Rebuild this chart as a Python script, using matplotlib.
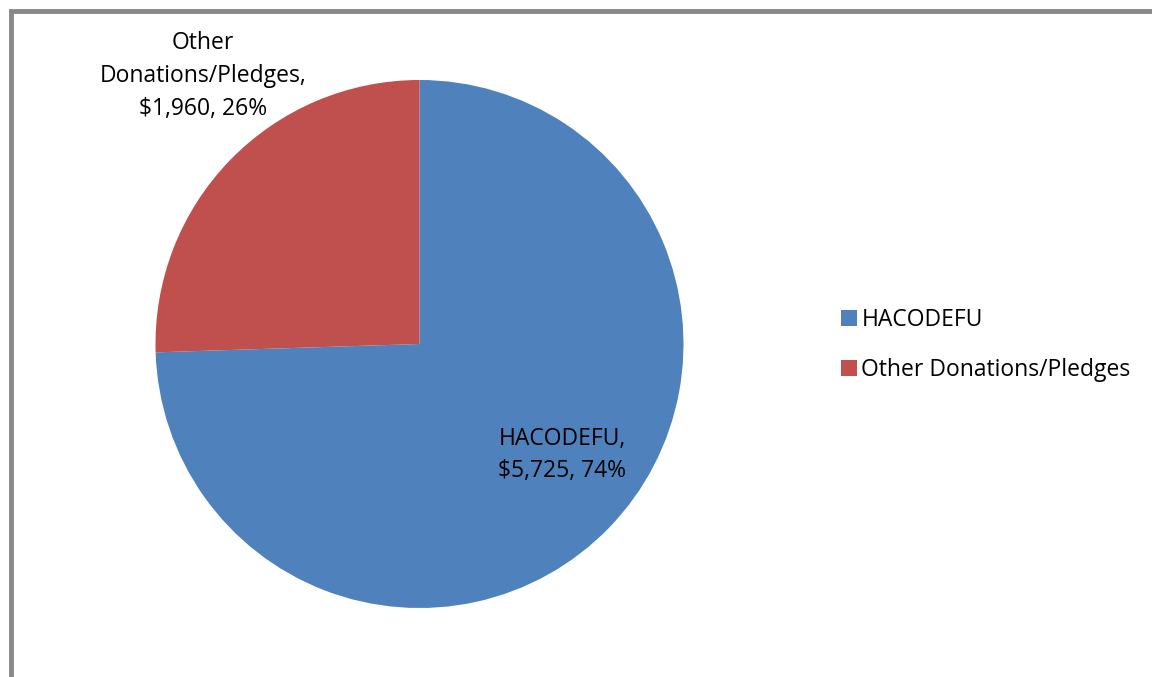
import matplotlib.pyplot as plt
from matplotlib.patches import Rectangle, Patch

plt.rcParams['font.family'] = ['Open Sans', 'DejaVu Sans']

categories = ['HACODEFU', 'Other Donations/Pledges']
amounts = [5725, 1960]
colors = ['#4F81BD', '#C0504D']

W, H = 1152, 677
fig = plt.figure(figsize=(W / 100, H / 100), dpi=100)

# chart frame (cut off at right/bottom like the screenshot)
fig.patches.append(Rectangle((10.5 / W, -0.1), 2.0, (H - 10.5) / H + 0.1,
                             transform=fig.transFigure, fill=False,
                             edgecolor='#888888', linewidth=3.5))

cx, cy, r = 419.5, 344, 264
ax = fig.add_axes([(cx - r) / W, (H - cy - r) / H, 2 * r / W, 2 * r / H])

total = sum(amounts)
pcts = [round(100 * a / total) for a in amounts]
labels = ['%s,\n$%s, %d%%' % (c, format(a, ','), p) for c, a, p in zip(categories, amounts, pcts)]
labels[1] = 'Other\nDonations/Pledges,\n$%s, %d%%' % (format(amounts[1], ','), pcts[1])

wedges, texts = ax.pie(amounts, colors=colors, startangle=90, counterclock=False,
                       labels=labels, labeldistance=0.68,
                       wedgeprops=dict(linewidth=0),
                       textprops=dict(fontsize=16.5, ha='center', va='center',
                                      linespacing=1.48))
texts[0].set_position((0.54, -0.42))
texts[1].set_position((-0.82, 1.015))
for t in texts:
    t.set_ha('center')
    t.set_va('center')
ax.set_xlim(-1, 1)
ax.set_ylim(-1, 1)
ax.set_aspect('equal')

handles = [Patch(facecolor=c, edgecolor='none') for c in colors]
fig.legend(handles, categories, loc='center left',
           bbox_to_anchor=(820 / W, (H - 345) / H), frameon=False,
           fontsize=16.5, handlelength=0.7, handleheight=0.7,
           handletextpad=0.2, labelspacing=1.1)

fig.savefig('out.png', dpi=100)
